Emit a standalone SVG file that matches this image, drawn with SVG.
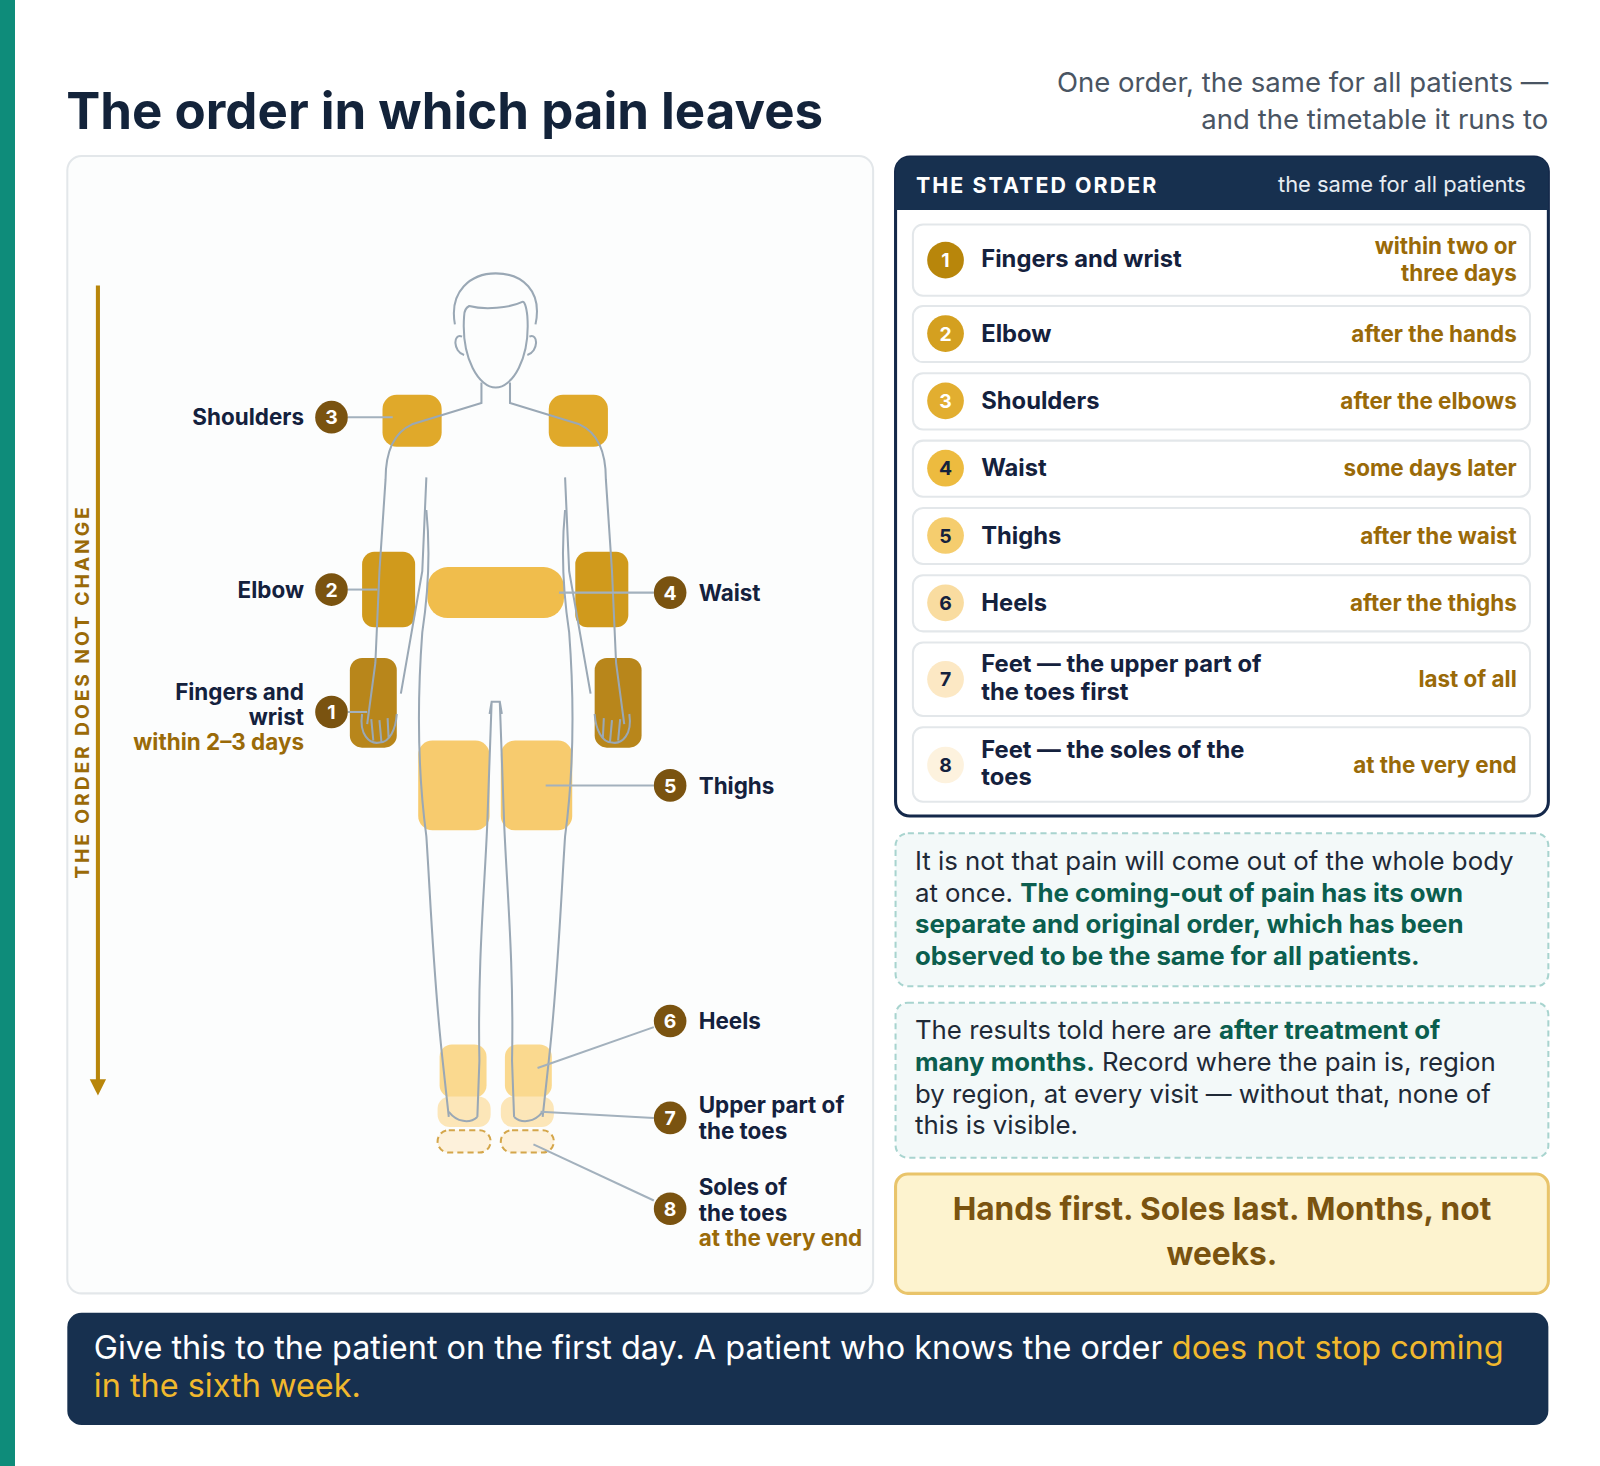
<svg xmlns="http://www.w3.org/2000/svg" width="1600" height="1466" viewBox="0 0 1600 1466">
<style>
text{font-family:Inter,"Open Sans","Liberation Sans",sans-serif}
.b{font-weight:700}
.lbl{font-size:22px;font-weight:700;fill:#14213D}
.gold{fill:#9A6A08}
.num{font-size:19px;font-weight:700;fill:#fff;text-anchor:middle}
.cn{fill:#7A5310}
.ld{stroke:#A3B1BD;stroke-width:2;fill:none}
.body{stroke:#9AA8B5;stroke-width:2;fill:none}
.row{fill:#fff;stroke:#E3E7EA;stroke-width:2}
.rl{font-size:23.3px;font-weight:700;fill:#14213D}
.rr{font-size:22px;font-weight:700;fill:#9A6A08;text-anchor:end}
.tn{font-size:19px;font-weight:700;text-anchor:middle}
.note{font-size:25.3px;fill:#1F2A37}
.ng{font-weight:700;fill:#0B5E4E}
</style>
<rect width="1600" height="1466" fill="#fff"/>
<rect x="0" y="0" width="15" height="1466" fill="#0E8C7A"/>
<g transform="scale(1.02)">
<text x="65" y="126" font-size="50" class="b" fill="#13233A">The order in which pain leaves</text>
<text x="1518" y="90" font-size="27" fill="#4A5563" text-anchor="end">One order, the same for all patients —</text>
<text x="1518" y="126" font-size="27" fill="#4A5563" text-anchor="end">and the timetable it runs to</text>

<g id="body-panel">
<rect x="66" y="153" width="790" height="1115" rx="14" fill="#FCFDFD" stroke="#E3E7EA" stroke-width="2"/>
<line x1="96" y1="280" x2="96" y2="1060" stroke="#B8860B" stroke-width="4"/>
<polygon points="88,1058 104,1058 96,1074" fill="#B8860B"/>
<text transform="translate(87,678) rotate(-90)" font-size="19" class="b" fill="#9A6A08" text-anchor="middle" letter-spacing="2.8">THE ORDER DOES NOT CHANGE</text>
</g>

<g id="regions">
<rect x="375" y="387" width="58" height="51" rx="14" fill="#E0A92A"/>
<rect x="538" y="387" width="58" height="51" rx="14" fill="#E0A92A"/>
<rect x="355" y="541" width="52" height="74" rx="12" fill="#D09A1C"/>
<rect x="564" y="541" width="52" height="74" rx="12" fill="#D09A1C"/>
<rect x="419" y="556" width="134" height="50" rx="20" fill="#F0BD4C"/>
<rect x="343" y="645" width="46" height="88" rx="12" fill="#B8861B"/>
<rect x="583" y="645" width="46" height="88" rx="12" fill="#B8861B"/>
<rect x="410" y="726" width="70" height="88" rx="14" fill="#F7CB6E"/>
<rect x="491" y="726" width="70" height="88" rx="14" fill="#F7CB6E"/>
<rect x="431" y="1024" width="46" height="52" rx="12" fill="#FAD98F"/>
<rect x="495" y="1024" width="46" height="52" rx="12" fill="#FAD98F"/>
<rect x="429" y="1075" width="52" height="30" rx="12" fill="#FCE6B8"/>
<rect x="491" y="1075" width="52" height="30" rx="12" fill="#FCE6B8"/>
<rect x="429" y="1108" width="52" height="22" rx="11" fill="#FDF1DB" stroke="#D4A64A" stroke-width="2" stroke-dasharray="6 4"/>
<rect x="491" y="1108" width="52" height="22" rx="11" fill="#FDF1DB" stroke="#D4A64A" stroke-width="2" stroke-dasharray="6 4"/>
</g>

<g id="figure" class="body">
<path d="M446,318 C440,285 462,268 486,268 C512,268 532,285 525,318"/>
<path d="M455,310 C452,352 470,380 486,380 C502,380 520,352 517,310 C516,300 514,295 512,296 C500,302 475,304 460,300 C456,302 455,305 455,310 Z"/>
<path d="M453,330 C444,326 444,345 455,348 M519,330 C528,326 528,345 517,348"/>
<path d="M472,375 L472,395 L404,416 C384,425 378,445 378,470 L372,560 L368,650 L360,710 M418,468 L414,560 L393,680"/>
<path d="M500,375 L500,395 L568,416 C588,425 594,445 594,470 L600,560 L604,650 L612,710 M554,468 L558,560 L579,680"/>
<path d="M418,500 C422,540 420,580 414,620 C408,700 410,760 418,820 C422,880 425,960 434,1040 L440,1095"/>
<path d="M554,500 C550,540 552,580 558,620 C564,700 562,760 554,820 C550,880 547,960 538,1040 L532,1095"/>
<path d="M480,700 L482,688 L490,688 L492,700 M482,688 L478,800 C476,860 468,940 470,1040 L468,1095 M490,688 L494,800 C496,860 504,940 502,1040 L504,1095"/>
<path d="M440,1090 C448,1100 460,1102 468,1095 M504,1095 C512,1102 524,1100 532,1090"/>
<path d="M355,700 C352,720 362,730 372,728 C382,728 388,715 389,700 M364,705 L366,726 M372,706 L374,728 M380,704 L381,724"/>
<path d="M617,700 C620,720 610,730 600,728 C590,728 584,715 583,700 M608,705 L606,726 M600,706 L598,728 M592,704 L591,724"/>
</g>

<g id="connectors">
<line class="ld" x1="341" y1="409" x2="385" y2="409"/>
<line class="ld" x1="341" y1="578" x2="370" y2="578"/>
<line class="ld" x1="341" y1="698" x2="360" y2="698"/>
<line class="ld" x1="548" y1="581" x2="641" y2="581"/>
<line class="ld" x1="535" y1="770" x2="641" y2="770"/>
<line class="ld" x1="527" y1="1047" x2="641" y2="1007"/>
<line class="ld" x1="530" y1="1090" x2="641" y2="1096"/>
<line class="ld" x1="523" y1="1122" x2="641" y2="1177"/>
</g>

<g id="labels">
<text class="lbl" x="298" y="417" text-anchor="end">Shoulders</text>
<circle class="cn" cx="325" cy="409" r="16"/><text class="num" x="325" y="416">3</text>
<text class="lbl" x="298" y="586" text-anchor="end">Elbow</text>
<circle class="cn" cx="325" cy="578" r="16"/><text class="num" x="325" y="585">2</text>
<text class="lbl" x="298" y="686" text-anchor="end">Fingers and</text>
<text class="lbl" x="298" y="711" text-anchor="end">wrist</text>
<text class="lbl gold" x="298" y="735" text-anchor="end" font-size="20">within 2–3 days</text>
<circle class="cn" cx="325" cy="698" r="16"/><text class="num" x="325" y="705">1</text>
<circle class="cn" cx="657" cy="581" r="16"/><text class="num" x="657" y="588">4</text>
<text class="lbl" x="685" y="589">Waist</text>
<circle class="cn" cx="657" cy="770" r="16"/><text class="num" x="657" y="777">5</text>
<text class="lbl" x="685" y="778">Thighs</text>
<circle class="cn" cx="657" cy="1001" r="16"/><text class="num" x="657" y="1008">6</text>
<text class="lbl" x="685" y="1009">Heels</text>
<circle class="cn" cx="657" cy="1096" r="16"/><text class="num" x="657" y="1103">7</text>
<text class="lbl" x="685" y="1091">Upper part of</text>
<text class="lbl" x="685" y="1117">the toes</text>
<circle class="cn" cx="657" cy="1185" r="16"/><text class="num" x="657" y="1192">8</text>
<text class="lbl" x="685" y="1172">Soles of</text>
<text class="lbl" x="685" y="1197">the toes</text>
<text class="lbl gold" x="685" y="1222" font-size="20">at the very end</text>
</g>

<g id="order-table">
<rect x="878" y="154" width="640" height="646" rx="14" fill="#fff" stroke="#14284A" stroke-width="3"/>
<path d="M878,206 L878,168 Q878,154 892,154 L1504,154 Q1518,154 1518,168 L1518,206 Z" fill="#17304F"/>
<text x="898" y="189" font-size="21" class="b" fill="#fff" letter-spacing="2">THE STATED ORDER</text>
<text x="1496" y="188" font-size="21.5" fill="#E6ECF2" text-anchor="end">the same for all patients</text>

<rect class="row" x="895" y="220" width="605" height="70" rx="10"/>
<circle cx="927" cy="255" r="18" fill="#B8860B"/><text class="tn" x="927" y="262" fill="#fff">1</text>
<text class="rl" x="962" y="262">Fingers and wrist</text>
<text class="rr" x="1487" y="249">within two or</text><text class="rr" x="1487" y="275">three days</text>

<rect class="row" x="895" y="300" width="605" height="55" rx="10"/>
<circle cx="927" cy="327" r="18" fill="#D4A020"/><text class="tn" x="927" y="334" fill="#fff">2</text>
<text class="rl" x="962" y="335">Elbow</text><text class="rr" x="1487" y="335">after the hands</text>

<rect class="row" x="895" y="366" width="605" height="55" rx="10"/>
<circle cx="927" cy="393" r="18" fill="#E2AE30"/><text class="tn" x="927" y="400" fill="#fff">3</text>
<text class="rl" x="962" y="401">Shoulders</text><text class="rr" x="1487" y="401">after the elbows</text>

<rect class="row" x="895" y="432" width="605" height="55" rx="10"/>
<circle cx="927" cy="459" r="18" fill="#EDBB3F"/><text class="tn" x="927" y="466" fill="#14213D">4</text>
<text class="rl" x="962" y="467">Waist</text><text class="rr" x="1487" y="467">some days later</text>

<rect class="row" x="895" y="498" width="605" height="55" rx="10"/>
<circle cx="927" cy="525" r="18" fill="#F5CD6E"/><text class="tn" x="927" y="532" fill="#14213D">5</text>
<text class="rl" x="962" y="533">Thighs</text><text class="rr" x="1487" y="533">after the waist</text>

<rect class="row" x="895" y="564" width="605" height="55" rx="10"/>
<circle cx="927" cy="591" r="18" fill="#F9DCA0"/><text class="tn" x="927" y="598" fill="#14213D">6</text>
<text class="rl" x="962" y="599">Heels</text><text class="rr" x="1487" y="599">after the thighs</text>

<rect class="row" x="895" y="630" width="605" height="72" rx="10"/>
<circle cx="927" cy="666" r="18" fill="#FCE8C4"/><text class="tn" x="927" y="673" fill="#14213D">7</text>
<text class="rl" x="962" y="659">Feet — the upper part of</text><text class="rl" x="962" y="686">the toes first</text>
<text class="rr" x="1487" y="674">last of all</text>

<rect class="row" x="895" y="713" width="605" height="73" rx="10"/>
<circle cx="927" cy="750" r="18" fill="#FDF2DE"/><text class="tn" x="927" y="757" fill="#14213D">8</text>
<text class="rl" x="962" y="743">Feet — the soles of the</text><text class="rl" x="962" y="770">toes</text>
<text class="rr" x="1487" y="758">at the very end</text>
</g>

<g id="note-1">
<rect x="878" y="817" width="640" height="150" rx="12" fill="#F3F9F9" stroke="#A8D4CF" stroke-width="2" stroke-dasharray="6 4"/>
<text class="note" x="897" y="853">It is not that pain will come out of the whole body</text>
<text class="note" x="897" y="884">at once. <tspan class="ng">The coming-out of pain has its own</tspan></text>
<text class="note ng" x="897" y="915">separate and original order, which has been</text>
<text class="note ng" x="897" y="946">observed to be the same for all patients.</text>
</g>
<g id="note-2">
<rect x="878" y="983" width="640" height="152" rx="12" fill="#F3F9F9" stroke="#A8D4CF" stroke-width="2" stroke-dasharray="6 4"/>
<text class="note" x="897" y="1019">The results told here are <tspan class="ng">after treatment of</tspan></text>
<text class="note" x="897" y="1050"><tspan class="ng">many months.</tspan> Record where the pain is, region</text>
<text class="note" x="897" y="1081">by region, at every visit — without that, none of</text>
<text class="note" x="897" y="1112">this is visible.</text>
</g>
<g id="summary">
<rect x="878" y="1151" width="640" height="117" rx="12" fill="#FDF3CF" stroke="#E9C46A" stroke-width="3"/>
<text x="1198" y="1196" font-size="31" class="b" fill="#7A5310" text-anchor="middle">Hands first. Soles last. Months, not</text>
<text x="1198" y="1240" font-size="31" class="b" fill="#7A5310" text-anchor="middle">weeks.</text>
</g>
<g id="footer">
<rect x="66" y="1287" width="1452" height="110" rx="14" fill="#17304F"/>
<text x="92" y="1332" font-size="31.8" fill="#fff">Give this to the patient on the first day. A patient who knows the order <tspan fill="#F1B82D">does not stop coming</tspan></text>
<text x="92" y="1370" font-size="31.8" fill="#F1B82D">in the sixth week.</text>
</g>
</g>
</svg>
